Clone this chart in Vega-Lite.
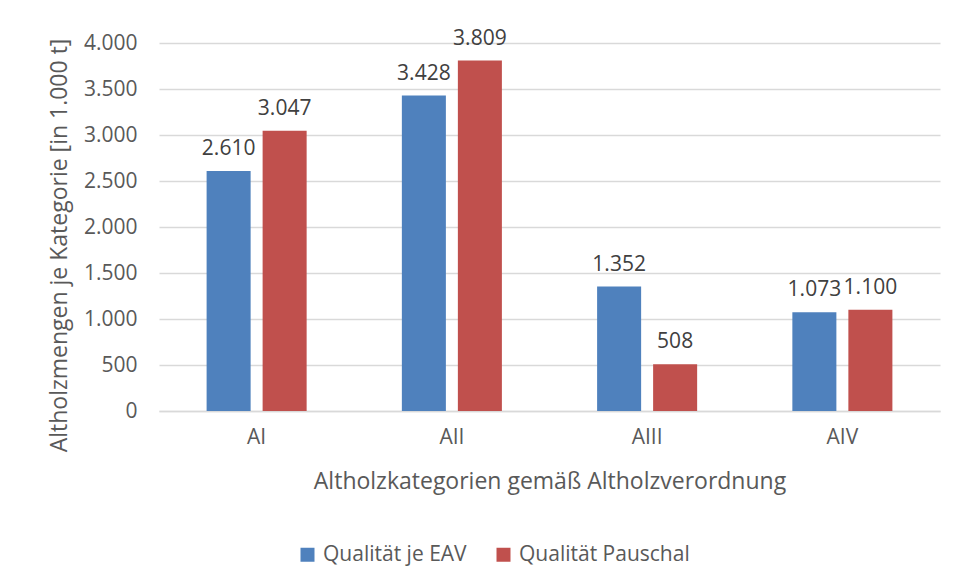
{
  "$schema": "https://vega.github.io/schema/vega-lite/v6.json",
  "width": 781,
  "height": 368,
  "autosize": "none",
  "padding": {"left": 159, "top": 43, "right": 17, "bottom": 170},
  "background": "white",
  "config": {
    "locale": {"number": {"decimal": ",", "thousands": ".", "grouping": [3], "currency": ["", " €"]}},
    "view": {"stroke": null},
    "font": "Open Sans",
    "axis": {"labelFont": "Open Sans", "titleFont": "Open Sans", "labelColor": "#595959", "titleColor": "#595959", "titleFontWeight": "normal"},
    "legend": {"labelFont": "Open Sans"}
  },
  "data": {
    "values": [
      {"kategorie": "AI", "serie": "Qualität je EAV", "menge": 2610},
      {"kategorie": "AI", "serie": "Qualität Pauschal", "menge": 3047},
      {"kategorie": "AII", "serie": "Qualität je EAV", "menge": 3428},
      {"kategorie": "AII", "serie": "Qualität Pauschal", "menge": 3809},
      {"kategorie": "AIII", "serie": "Qualität je EAV", "menge": 1352},
      {"kategorie": "AIII", "serie": "Qualität Pauschal", "menge": 508},
      {"kategorie": "AIV", "serie": "Qualität je EAV", "menge": 1073},
      {"kategorie": "AIV", "serie": "Qualität Pauschal", "menge": 1100}
    ]
  },
  "encoding": {
    "x": {
      "field": "kategorie", "type": "nominal", "sort": ["AI", "AII", "AIII", "AIV"],
      "scale": {"paddingInner": 0, "paddingOuter": 0},
      "axis": {
        "title": "Altholzkategorien gemäß Altholzverordnung",
        "labelAngle": 0, "labelFontSize": 21, "titleFontSize": 23,
        "domain": true, "domainColor": "#d9d9d9", "domainWidth": 1.5,
        "ticks": false, "labelPadding": 15, "titlePadding": 23
      }
    },
    "xOffset": {
      "field": "serie", "type": "nominal", "sort": ["Qualität je EAV", "Qualität Pauschal"],
      "scale": {"paddingInner": 0.214, "paddingOuter": 0.85}
    },
    "y": {
      "field": "menge", "type": "quantitative",
      "scale": {"domain": [0, 4000], "nice": false},
      "axis": {
        "title": "Altholzmengen je Kategorie [in 1.000 t]",
        "values": [0, 500, 1000, 1500, 2000, 2500, 3000, 3500, 4000],
        "format": ",.0f",
        "labelFontSize": 21, "titleFontSize": 23,
        "domain": false, "ticks": false,
        "grid": true, "gridColor": "#d9d9d9", "gridWidth": 1.5,
        "labelPadding": 22, "titlePadding": 12, "titleY": 202
      }
    }
  },
  "layer": [
    {
      "mark": {"type": "bar"},
      "encoding": {
        "color": {
          "field": "serie", "type": "nominal",
          "scale": {"domain": ["Qualität je EAV", "Qualität Pauschal"], "range": ["#4f81bd", "#c0504d"]},
          "legend": {
            "title": null, "orient": "none", "direction": "horizontal",
            "legendX": 138, "legendY": 501,
            "symbolType": "square", "symbolSize": 196, "symbolStrokeWidth": 0,
            "labelFontSize": 21, "labelColor": "#595959", "labelOffset": 5, "labelLimit": 400,
            "columnPadding": 26
          }
        }
      }
    },
    {
      "mark": {"type": "text", "baseline": "bottom", "dy": -12, "fontSize": 21, "color": "#404040"},
      "encoding": {
        "text": {"field": "menge", "type": "quantitative", "format": ",.0f"}
      }
    }
  ]
}
